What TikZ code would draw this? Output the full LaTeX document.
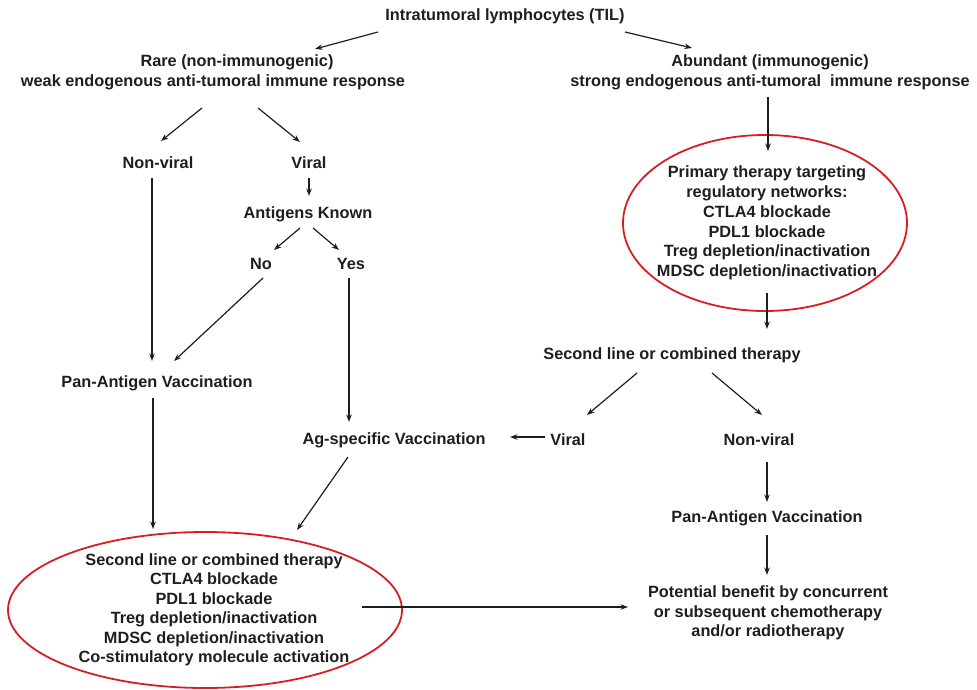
\documentclass[tikz,border=0pt]{standalone}
\usepackage{fontspec}
\setmainfont{Liberation Sans}
\usetikzlibrary{arrows.meta,calc}
\definecolor{txt}{RGB}{30,30,30}
\definecolor{ellred}{RGB}{215,30,35}
\begin{document}
\begin{tikzpicture}[x=1pt,y=-1pt,
  lbl/.style={inner sep=0pt,align=center,text=txt,font=\bfseries\fontsize{16.3}{20}\selectfont},
  arr/.style={draw=txt,line width=1.2pt,-{Stealth[length=7.5pt,width=5.5pt]}},
  redell/.style={draw=ellred,line width=1.8pt}]
\useasboundingbox (0,0) rectangle (977,690);
% nodes
\node[lbl] (til) at (505,16) {Intratumoral lymphocytes (TIL)};
\node[lbl] (rare) at (237,62) {Rare (non-immunogenic)};
\node[lbl] (rarex) at (213,82) {weak endogenous anti-tumoral immune response};
\node[lbl] (abund) at (770,72) {Abundant (immunogenic)\\strong endogenous anti-tumoral\ \ immune response};
\node[lbl] (nv1) at (158,163) {Non-viral};
\node[lbl] (vir1) at (309,163) {Viral};
\node[lbl] (ant) at (308,214) {Antigens Known};
\node[lbl] (no) at (261,264) {No};
\node[lbl] (yes) at (351,264) {Yes};
\node[lbl] (pan1) at (157,383) {Pan-Antigen Vaccination};
\node[lbl] (ag) at (394,440) {Ag-specific Vaccination};
\node[lbl,font=\bfseries\fontsize{16.3}{19.5}\selectfont] (e1) at (214,610) {Second line or combined therapy\\CTLA4 blockade\\PDL1 blockade\\Treg depletion/inactivation\\MDSC depletion/inactivation\\Co-stimulatory molecule activation};
\node[lbl,font=\bfseries\fontsize{16.3}{19.8}\selectfont] (e2) at (767,223) {Primary therapy targeting\\regulatory networks:\\CTLA4 blockade\\PDL1 blockade\\Treg depletion/inactivation\\MDSC depletion/inactivation};
\node[lbl] (sec2) at (672,355) {Second line or combined therapy};
\node[lbl] (vir2) at (568,440) {Viral};
\node[lbl] (nv2) at (759,440) {Non-viral};
\node[lbl] (pan2) at (767,518) {Pan-Antigen Vaccination};
\node[lbl,font=\bfseries\fontsize{16.3}{19.5}\selectfont] (pot) at (768,613) {Potential benefit by concurrent\\or subsequent chemotherapy\\and/or radiotherapy};
% ellipses
\draw[redell] ($(e1.center)+(-9,0)$) ellipse [x radius=197pt, y radius=78pt];
\draw[redell] ($(e2.center)+(-2,0)$) ellipse [x radius=142pt, y radius=88pt];
% connectors (offsets: y down)
\draw[arr] ($(til.center)+(-127,16)$) -- ($(rare.center)+(78,-13)$);
\draw[arr] ($(til.center)+(120,16)$) -- ($(abund.center)+(-78,-24)$);
\draw[arr] ($(rarex.center)+(-11,26)$) -- ($(nv1.center)+(3,-22)$);
\draw[arr] ($(rarex.center)+(45,26)$) -- ($(vir1.center)+(-9,-21)$);
\draw[arr] ($(vir1.center)+(0,15)$) -- ($(ant.center)+(1,-18)$);
\draw[arr] ($(ant.center)+(-8,14)$) -- ($(no.center)+(13,-14)$);
\draw[arr] ($(ant.center)+(5,14)$) -- ($(yes.center)+(-12,-14)$);
\draw[arr] ($(no.center)+(2,14)$) -- ($(pan1.center)+(17,-22)$);
\draw[arr] ($(nv1.center)+(-6,15)$) -- ($(pan1.center)+(-5,-22)$);
\draw[arr] ($(yes.center)+(-2,14)$) -- ($(ag.center)+(-45,-18)$);
\draw[arr] ($(pan1.center)+(-4,15)$) -- ($(e1.center)+(-61,-81)$);
\draw[arr] ($(ag.center)+(-46,17)$) -- ($(e1.center)+(83,-80)$);
\draw[arr] ($(e1.center)+(148,-3)$) -- ($(pot.center)+(-140,-6)$);
\draw[arr] ($(abund.center)+(-2,25)$) -- ($(e2.center)+(1,-72)$);
\draw[arr] ($(e2.center)+(0,70)$) -- ($(sec2.center)+(95,-26)$);
\draw[arr] ($(sec2.center)+(-35,18)$) -- ($(vir2.center)+(19,-25)$);
\draw[arr] ($(sec2.center)+(40,18)$) -- ($(nv2.center)+(3,-25)$);
\draw[arr] ($(vir2.center)+(-23,-3)$) -- ($(ag.center)+(116,-3)$);
\draw[arr] ($(nv2.center)+(8,22)$) -- ($(pan2.center)+(0,-16)$);
\draw[arr] ($(pan2.center)+(0,17)$) -- ($(pot.center)+(-1,-38)$);
\end{tikzpicture}
\end{document}
